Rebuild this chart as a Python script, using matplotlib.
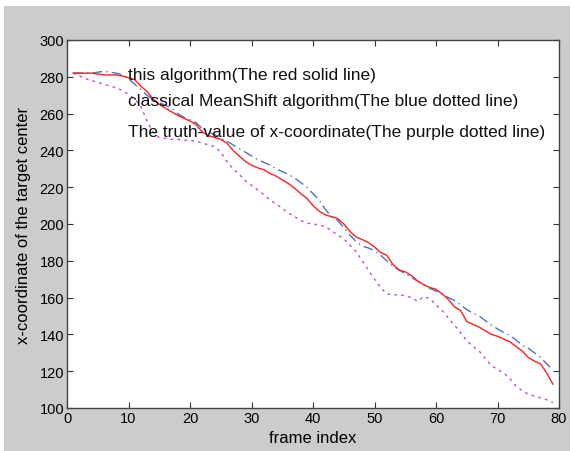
import matplotlib
matplotlib.use("Agg")
import matplotlib.pyplot as plt
from matplotlib.patches import Rectangle

frames = list(range(1, 80))

red_values = [282, 282, 282, 282, 281.5, 281, 281, 281, 280.5, 279.5,
              278.5, 275, 272, 268, 265, 263, 261, 259, 257.5, 256,
              254, 250, 248, 247, 246, 244, 240, 237, 234, 232,
              230.5, 229.5, 227.5, 226, 224, 222, 219.5, 216.5, 214, 210,
              207, 205, 204, 203, 200, 196, 193, 191.5, 190, 187.5,
              184.5, 183, 178, 175, 174, 172, 169, 167, 165.5, 164.5,
              162, 159, 155, 153, 147, 145.5, 144, 142, 140, 139,
              137.5, 136, 133.5, 131, 127.5, 125.5, 124, 119, 113]

blue_values = [282, 282, 282, 282, 282.5, 283, 282.5, 282, 281, 279,
               276, 273, 270, 267.5, 266, 264.5, 263, 260, 258, 256.5,
               255, 252, 250, 248.5, 246.5, 245, 243, 241, 239, 237,
               235, 233.5, 232, 230, 228.5, 227, 225, 222.5, 220, 216.5,
               213, 208, 204, 202, 198, 194, 190.5, 188, 187, 185.5,
               183, 180, 177, 175, 173, 171, 169, 167, 165, 163.5,
               162, 160, 158.5, 156, 153.5, 151.5, 150, 147.5, 145, 143,
               141, 139.5, 137, 134, 132.5, 130, 127.5, 124, 120.5]

purple_values = [282, 280.5, 279, 278, 277, 276, 275, 274, 272.5, 270.5,
                 268, 264, 256, 250, 247, 246.5, 246, 246, 245.5, 245.5,
                 245, 244, 243, 242, 239, 234, 230, 227, 223.5, 221,
                 218.5, 216, 213, 211, 208.5, 206, 204, 202, 200.5, 200,
                 199.5, 198.5, 196.5, 194, 192, 188.5, 185, 180, 175, 170,
                 165.5, 162, 161.5, 161.5, 161, 160, 158, 160.5, 159.5, 156,
                 153, 149, 145, 141, 136.5, 133.5, 131, 127, 123, 121,
                 119, 116, 112, 109.5, 107.5, 106.5, 105.5, 104.5, 103]

annotations = ["this algorithm(The red solid line)",
               "classical MeanShift algorithm(The blue dotted line)",
               "The truth-value of x-coordinate(The purple dotted line)"]
annotation_y = [281.0, 267.0, 250.0]

xticks = [0, 10, 20, 30, 40, 50, 60, 70, 80]
yticks = [100, 120, 140, 160, 180, 200, 220, 240, 260, 280, 300]

plt.rcParams['font.family'] = ['Liberation Sans', 'DejaVu Sans']

fig = plt.figure(figsize=(5.71, 4.52), dpi=100, facecolor='white')
fig.patches.append(Rectangle((4 / 571, 0), (570 - 4) / 571, (452 - 7) / 452,
                             transform=fig.transFigure, facecolor='#cccccc',
                             edgecolor='none', zorder=-10))

ax = fig.add_axes([67 / 571, (452 - 409) / 452, (559 - 67) / 571, (409 - 41) / 452])
ax.set_facecolor('white')

ax.plot(frames, purple_values, linestyle=(0, (2, 3)), color='#c050c0', linewidth=1.0)
ax.plot(frames, blue_values, linestyle=(0, (7, 3, 1, 3)), color='#4f6fc4', linewidth=1.0)
ax.plot(frames, red_values, linestyle='-', color='#ff2020', linewidth=1.0)

for txt, yv in zip(annotations, annotation_y):
    ax.text(10, yv, txt, fontsize=12.5, va='center', ha='left', color='#111111')

ax.set_xlim(0, 80)
ax.set_ylim(100, 300)
ax.set_xticks(xticks)
ax.set_yticks(yticks)
ax.tick_params(direction='in', top=True, right=True, length=4, width=0.8,
               labelsize=10.5, colors='#333333', labelcolor='black', pad=2)
for s in ax.spines.values():
    s.set_color('#444444')
    s.set_linewidth(1.0)

ax.set_xlabel('frame index', fontsize=12, labelpad=4)
ax.set_ylabel('x-coordinate of the target center', fontsize=12, labelpad=6)

fig.savefig('out.png', dpi=100, facecolor=fig.get_facecolor())
